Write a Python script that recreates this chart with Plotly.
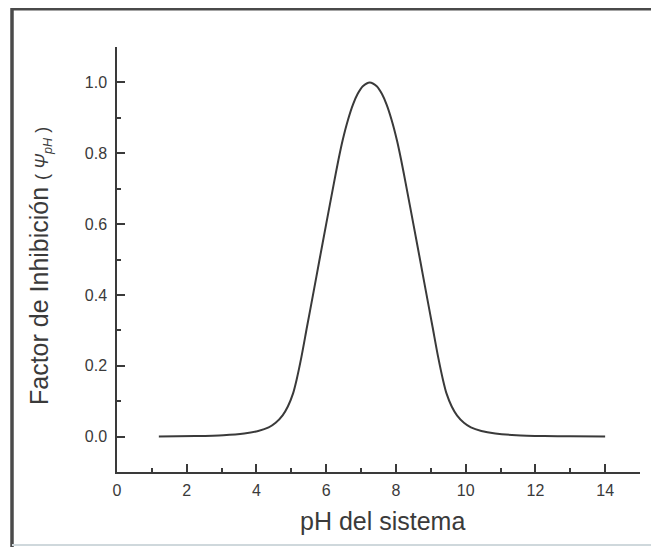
import plotly.graph_objects as go

# Data
ph_values = [1.2, 2.25, 3.05, 3.65, 4.05, 4.35, 4.55, 4.75, 4.9, 5.05, 5.15, 5.29, 5.45,
             5.64, 5.8, 5.99, 6.22, 6.35, 6.47, 6.63, 6.77, 6.9, 7.05, 7.25,
             7.45, 7.6, 7.73, 7.87, 8.03, 8.15, 8.28, 8.51, 8.7, 8.86, 9.05, 9.21, 9.35,
             9.45, 9.6, 9.75, 9.95, 10.15, 10.45, 10.85, 11.45, 12.25, 13.0, 14.0]
psi_values = [0.0, 0.0015, 0.004, 0.009, 0.016, 0.026, 0.039, 0.06, 0.085, 0.122, 0.16, 0.225,
              0.31, 0.41, 0.495, 0.595, 0.715, 0.781, 0.836, 0.896, 0.938, 0.967, 0.989, 1.0,
              0.989, 0.967, 0.938, 0.896, 0.836, 0.781, 0.715, 0.595, 0.495, 0.41, 0.31, 0.225,
              0.16, 0.122, 0.085, 0.06, 0.039, 0.026, 0.016, 0.009, 0.004, 0.0015, 0.0007, 0.0]

x_tick_vals = [0, 2, 4, 6, 8, 10, 12, 14]
y_tick_vals = [0.0, 0.2, 0.4, 0.6, 0.8, 1.0]

# the page body adds an 8px offset; figure coordinates below are page coords - 8
OFF = 8
W, H = 659 - OFF, 547 - OFF
L, T = 117 - OFF, 47 - OFF
R = W - (640 - OFF)
B = H - (472 - OFF)
ink = "#3a3a3a"
font_family = "Liberation Sans, Arial, sans-serif"

def px_x(px):
    """page pixel x -> paper x"""
    return (px - OFF - L) / (W - L - R)

def px_y(py):
    """page pixel y -> paper y"""
    return (H - B - (py - OFF)) / (H - T - B)

fig = go.Figure()
fig.add_trace(go.Scatter(
    x=ph_values, y=psi_values, mode="lines",
    line=dict(color=ink, width=2, shape="spline", smoothing=0.8),
    hoverinfo="skip", showlegend=False,
))

fig.update_layout(
    width=W, height=H,
    margin=dict(l=L, r=R, t=T, b=B),
    paper_bgcolor="white", plot_bgcolor="white",
    font=dict(family=font_family, color=ink, size=16),
    xaxis=dict(
        range=[0, 15], tickvals=x_tick_vals, showgrid=False, zeroline=False,
        showline=True, linecolor=ink, linewidth=1.5,
        ticks="inside", ticklen=8, tickwidth=1.5, tickcolor=ink,
        minor=dict(dtick=1, tick0=0, ticks="inside", ticklen=4, tickwidth=1.5, tickcolor=ink),
        tickfont=dict(size=16, color=ink), ticklabelstandoff=3,
    ),
    yaxis=dict(
        range=[-0.1, 1.1], tickvals=y_tick_vals, tickformat=".1f", showgrid=False,
        zeroline=False, showline=True, linecolor=ink, linewidth=1.5,
        ticks="inside", ticklen=8, tickwidth=1.5, tickcolor=ink,
        minor=dict(dtick=0.1, tick0=0, ticks="inside", ticklen=4, tickwidth=1.5, tickcolor=ink),
        tickfont=dict(size=16, color=ink), ticklabelstandoff=5,
    ),
)

# Axis titles
fig.add_annotation(
    text="pH del sistema", xref="paper", yref="paper",
    x=px_x(382), y=px_y(521), showarrow=False,
    font=dict(size=25, color=ink, family=font_family), xanchor="center", yanchor="middle",
)
fig.add_annotation(
    text=("Factor de Inhibición <span style='font-size:18px'>( <i>Ψ</i>"
          "<sub><i>pH</i></sub> )</span>"),
    xref="paper", yref="paper",
    x=px_x(40), y=px_y(266), showarrow=False, textangle=-90,
    font=dict(size=25, color=ink, family=font_family), xanchor="center", yanchor="middle",
)

# Scan frame lines
fig.add_shape(type="line", xref="paper", yref="paper",
              x0=px_x(12), x1=px_x(12), y0=px_y(8), y1=px_y(547),
              line=dict(color="#4a4a4a", width=3.5))
fig.add_shape(type="line", xref="paper", yref="paper",
              x0=px_x(12), x1=px_x(659), y0=px_y(9.3), y1=px_y(9.3),
              line=dict(color="#4a4a4a", width=2.5))
fig.add_shape(type="line", xref="paper", yref="paper",
              x0=px_x(12), x1=px_x(659), y0=px_y(545), y1=px_y(545),
              line=dict(color="#cfd8dc", width=2))

fig.write_html("out.html")
